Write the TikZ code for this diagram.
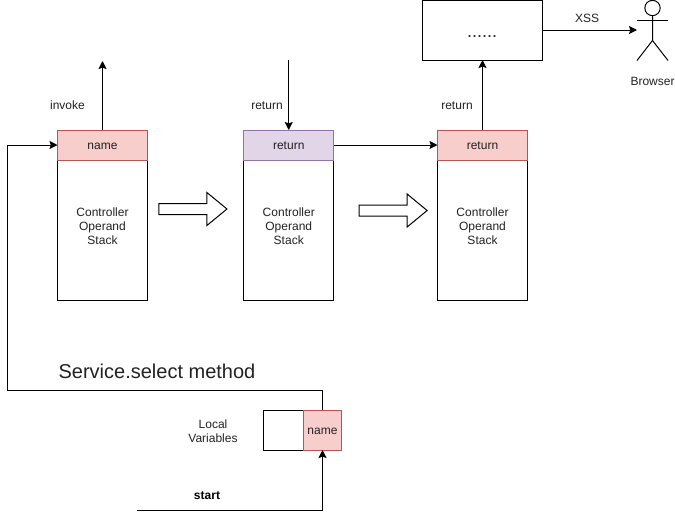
\documentclass[tikz,border=0pt]{standalone}
\usepackage{fontspec}
\setmainfont{Liberation Sans}
\usepackage{xcolor}
\usepackage{tikz}
\usetikzlibrary{arrows.meta,shapes.arrows}
\definecolor{redfill}{HTML}{F8CECC}
\definecolor{redline}{HTML}{B85450}
\definecolor{purplefill}{HTML}{E1D5E7}
\definecolor{purpleline}{HTML}{9673A6}
\definecolor{labeltext}{HTML}{222222}
\begin{document}
\begin{tikzpicture}[
    x=0.75pt,y=-0.75pt,line width=0.75pt,
    caption/.style={font=\fontsize{9}{10.5}\selectfont,text=labeltext,align=center,inner sep=0pt},
    stack/.style={draw,caption,outer sep=0pt,minimum width=67.5pt,minimum height=105pt,text depth=6.5pt},
    header/.style={draw,caption,outer sep=0pt,minimum width=67.5pt,minimum height=22.5pt,text height=7.5pt,text depth=1pt},
    redcell/.style={fill=redfill,draw=redline},
    purplecell/.style={fill=purplefill,draw=purpleline},
    varcell/.style={draw,caption,outer sep=0pt,minimum height=30pt,text height=7.5pt,text depth=1pt},
    bigarrow/.style={draw,single arrow,single arrow head extend=8.25pt,
                     single arrow tip angle=79,inner sep=3.75pt,outer sep=0pt,
                     minimum width=24pt,minimum height=51pt},
    arrow/.style={-{Stealth[length=6pt,width=6pt,inset=1pt]}}
  ]
    \useasboundingbox (0,0) rectangle (675,519);
    \node[stack] (stacka) at (102.5,230) {Controller\\Operand\\Stack};
    \node[stack] (stackb) at (288.75,230) {Controller\\Operand\\Stack};
    \node[stack] (stackc) at (482.5,230) {Controller\\Operand\\Stack};
    \node[header,redcell] (heada) at (102.5,145) {name};
    \node[header,purplecell] (headb) at (288.75,145) {return};
    \node[header,redcell] (headc) at (482.5,145) {return};
    \node[bigarrow] (movea) at (189.6,209) {};
    \node[bigarrow] (moveb) at (389.8,210.5) {};
    \node[draw,caption,outer sep=0pt,minimum width=90pt,minimum height=45pt,
          font=\fontsize{13.5}{16}\selectfont,text height=11pt,text depth=.5pt] (dots) at (482,30) {......};
    \node[draw,circle,outer sep=0pt,inner sep=0pt,minimum size=11.5pt] (head) at (652.5,8) {};
    \coordinate (neck) at (652.5,20);
    \coordinate (hip) at (652.5,40.5);
    \coordinate (armleft) at (637,20);
    \coordinate (armright) at (668,20);
    \coordinate (footleft) at (637,60.5);
    \coordinate (footright) at (668,60.5);
    \draw (head) -- (hip) -- (footleft);
    \draw (hip) -- (footright);
    \draw (armleft) -- (armright);
    \node[caption] (browser) at (652.5,81.5) {Browser};
    \node[caption] (xss) at (587,18.5) {XSS};
    \node[caption] (invoke) at (67.5,105.5) {invoke};
    \node[caption] (returna) at (267,105.5) {return};
    \node[caption] (returnb) at (457,105.5) {return};
    \node[caption,font=\fontsize{15}{18}\selectfont] (title) at (157,371) {Service.select method};
    \node[caption] (locals) at (213,431) {Local\\Variables};
    \node[caption,font=\fontsize{9}{10.5}\selectfont\bfseries,text=black] (start) at (207,495.5) {start};
    \node[varcell,minimum width=30pt] (varempty) at (283.5,430) {};
    \node[varcell,redcell,minimum width=28.5pt] (varname) at (322.5,430) {name};
    \coordinate (upa) at (102.5,61);
    \coordinate (downb) at (288.75,60);
    \coordinate (xssend) at (637,30);
    \coordinate (loopcorner) at (7.5,390);
    \coordinate (startfrom) at (137,510);
    \draw[arrow] (heada.north) -- (upa);
    \draw[arrow] (downb) -- (headb.north);
    \draw[arrow] (headb.east) -- (headc.west);
    \draw[arrow] (headc.north) -- (headc.north |- dots.south);
    \draw[arrow] (dots.east) -- (xssend);
    \draw[arrow] (varname.north) |- (loopcorner) |- (heada.west);
    \draw[arrow] (startfrom) -| (varname.south);
  \end{tikzpicture}
\end{document}
